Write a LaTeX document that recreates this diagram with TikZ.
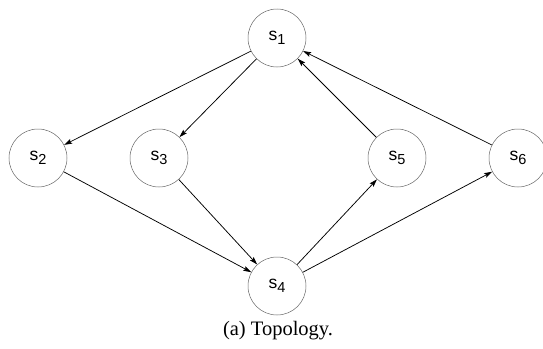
\documentclass[tikz,border=0pt]{standalone}
\usepackage{fontspec}
\setmainfont{Liberation Serif}
\newfontfamily\labelfont{Liberation Sans}
\usetikzlibrary{arrows.meta}
\tikzset{
  statenode/.style={circle, draw=black!60, line width=0.5pt, minimum size=58pt, inner sep=0pt,
    font=\labelfont\fontsize{17.5}{17.5}\selectfont},
  edge/.style={-{Stealth[length=8pt,width=5pt,inset=1.5pt]}, line width=0.75pt, black},
}
\newcommand{\slab}[1]{\raisebox{-3pt}{s\raisebox{-4.5pt}{\fontsize{14.5}{14.5}\selectfont #1}}}
\begin{document}
\begin{tikzpicture}[x=1pt,y=-1pt]
\useasboundingbox (0,0) rectangle (543,348);
\node[statenode] (s1) at (277,38) {\slab{1}};
\node[statenode] (s2) at (38,158) {\slab{2}};
\node[statenode] (s3) at (159,158) {\slab{3}};
\node[statenode] (s5) at (397,158) {\slab{5}};
\node[statenode] (s6) at (518,158) {\slab{6}};
\node[statenode] (s4) at (277,286) {\slab{4}};
\node[font=\fontsize{20.5}{20.5}\selectfont] (cap) at (278,331) {(a) Topology.};
\draw[edge] (s1) -- (s2);
\draw[edge] (s1) -- (s3);
\draw[edge] (s2) -- (s4);
\draw[edge] (s3) -- (s4);
\draw[edge] (s4) -- (s5);
\draw[edge] (s4) -- (s6);
\draw[edge] (s5) -- (s1);
\draw[edge] (s6) -- (s1);
\end{tikzpicture}
\end{document}
